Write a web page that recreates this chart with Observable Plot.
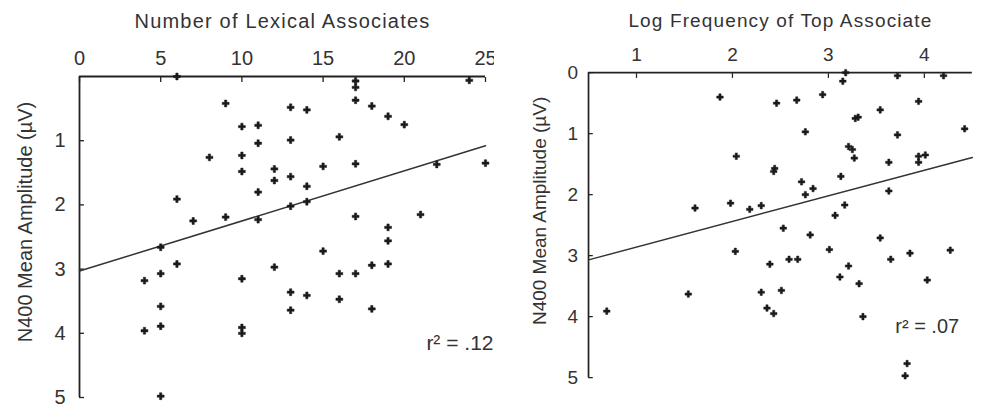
<!DOCTYPE html>
<html><head><meta charset="utf-8">
<script src="https://cdn.jsdelivr.net/npm/d3@7"></script>
<script src="https://cdn.jsdelivr.net/npm/@observablehq/plot@0.6"></script>
<style>
html,body{margin:0;padding:0;background:#fff;overflow:hidden}
#wrap{position:relative;width:988px;height:404px;overflow:hidden;background:#fff}
#left,#right{position:absolute;top:0}
#left{left:0}
#right{left:494px}
svg{font-family:"Liberation Sans",Arial,Helvetica,sans-serif}
</style></head><body><div id="wrap"><div id="left"></div><div id="right"></div></div>
<script>
// Left panel: number of lexical associates vs N400 mean amplitude
const assocCount = [6,17,17,24,9,13,14,17,18,19,20,10,11,11,13,16,8,10,10,12,12,13,15,17,22,25,14,11,6,14,13,9,11,7,17,21,19,19,5,15,6,12,18,19,4,5,10,16,17,13,14,16,5,13,18,4,5,10,10,5];
const assocAmp   = [0.0,0.07,0.17,0.06,0.42,0.48,0.52,0.37,0.46,0.62,0.75,0.78,0.76,1.04,0.99,0.94,1.26,1.23,1.48,1.44,1.62,1.56,1.40,1.36,1.37,1.35,1.71,1.80,1.91,1.95,2.02,2.19,2.23,2.25,2.18,2.15,2.35,2.56,2.66,2.72,2.92,2.97,2.94,2.92,3.18,3.07,3.15,3.07,3.07,3.36,3.41,3.47,3.58,3.64,3.62,3.96,3.89,3.91,4.0,4.98];
// Right panel: log frequency of top associate vs N400 mean amplitude
const logFreq = [3.18,3.15,3.72,4.20,1.87,2.46,2.67,2.94,3.54,3.28,3.31,3.94,2.76,3.72,4.42,2.04,3.21,3.25,3.27,3.63,3.94,4.01,3.94,2.44,2.43,3.13,2.72,2.84,2.76,3.63,1.61,1.98,2.18,2.30,3.17,3.07,2.53,2.81,3.54,2.03,3.01,2.39,2.59,2.68,3.21,3.65,3.85,4.27,3.12,3.32,4.03,2.30,2.51,1.54,2.36,2.43,3.36,0.69,3.82,3.80];
const freqAmp = [0.0,0.14,0.05,0.05,0.40,0.50,0.45,0.36,0.61,0.75,0.73,0.47,0.97,1.02,0.92,1.37,1.21,1.26,1.40,1.47,1.37,1.35,1.47,1.57,1.62,1.70,1.79,1.90,2.00,1.94,2.22,2.14,2.24,2.18,2.17,2.34,2.55,2.66,2.71,2.93,2.90,3.14,3.06,3.06,3.17,3.06,2.96,2.91,3.35,3.46,3.40,3.60,3.57,3.63,3.86,3.95,4.00,3.91,4.77,4.97];

const assocTicks = [0,5,10,15,20,25];
const freqTicks = [1,2,3,4];
const ampTicksLeft = [1,2,3,4,5];
const ampTicksRight = [0,1,2,3,4,5];
const assocDomain = [0,25];
const freqDomain = [0.5,4.5];
const ampDomain = [0,5];
const fitAssoc = {intercept: 3.03, slope: -0.078, r2: ".12"};
const fitFreq = {intercept: 3.28, slope: -0.42, r2: ".07"};
const titles = ["Number of Lexical Associates", "Log Frequency of Top Associate"];
const yTitle = "N400 Mean Amplitude (µV)";

const ink = "#222";
const font = 20;

function panel({xs, ys, xDomain, xTicks, yTicks, fit, title, width, marginLeft, marginRight, yPad, yTitleX, r2dx, r2anchor}) {
  const pts = xs.map((x, i) => ({x, y: ys[i]}));
  const fitLine = xDomain.map(x => ({x, y: fit.intercept + fit.slope * x}));
  return Plot.plot({
    width, height: 404,
    marginLeft, marginRight, marginTop: 76, marginBottom: 7,
    x: {domain: xDomain},
    y: {domain: ampDomain, reverse: true},
    style: {fontFamily: '"Liberation Sans", Arial, sans-serif', color: ink, background: "#fff", overflow: "visible"},
    marks: [
      Plot.axisX(xTicks, {anchor: "top", tickSize: -5, tickPadding: 17, tickFormat: d => String(d), fontSize: font, stroke: ink, fill: "#333", strokeWidth: 1.3, label: null}),
      Plot.axisY(yTicks, {anchor: "left", tickSize: -5, tickPadding: yPad, tickFormat: d => String(d), fontSize: font, stroke: ink, fill: "#333", strokeWidth: 1.3, label: null}),
      Plot.ruleY([ampDomain[0]], {stroke: ink, strokeWidth: 1.8}),
      Plot.ruleX([xDomain[0]], {stroke: ink, strokeWidth: 1.8}),
      Plot.line(fitLine, {x: "x", y: "y", stroke: "#333", strokeWidth: 1.5}),
      Plot.dot(pts, {x: "x", y: "y", symbol: "cross", r: 2.9, fill: "#1a1a1a", stroke: "#1a1a1a", strokeWidth: 0.5}),
      Plot.text([title], {frameAnchor: "top", textAnchor: "middle", dy: -55, fontSize: font, fill: "#333", lineAnchor: "middle"}),
      Plot.text([yTitle], {frameAnchor: "left", textAnchor: "middle", rotate: -90, dx: -(marginLeft - yTitleX), dy: -15, fontSize: font, fill: "#333", lineAnchor: "middle"}),
      Plot.text([`r² = ${fit.r2}`], {frameAnchor: "bottom-right", textAnchor: r2anchor, dx: r2dx, dy: -54, fontSize: 21, fill: "#333", lineAnchor: "middle"})
    ]
  });
}

const left = panel({xs: assocCount, ys: assocAmp, xDomain: assocDomain, xTicks: assocTicks, yTicks: ampTicksLeft, fit: fitAssoc, title: titles[0], width: 494, marginLeft: 79, marginRight: 9, yPad: 19, yTitleX: 25, r2dx: 8, r2anchor: "end"});
const right = panel({xs: logFreq, ys: freqAmp, xDomain: freqDomain, xTicks: freqTicks, yTicks: ampTicksRight, fit: fitFreq, title: titles[1], width: 520, marginLeft: 99, marginRight: 17, yPad: 16, yTitleX: 48, r2dx: -81, r2anchor: "start"});
document.getElementById("left").append(left);
document.getElementById("right").append(right);
d3.selectAll("svg").selectAll("text").filter(function(){ return this.textContent.length > 24; }).style("letter-spacing", "1.2px");
</script></body></html>
